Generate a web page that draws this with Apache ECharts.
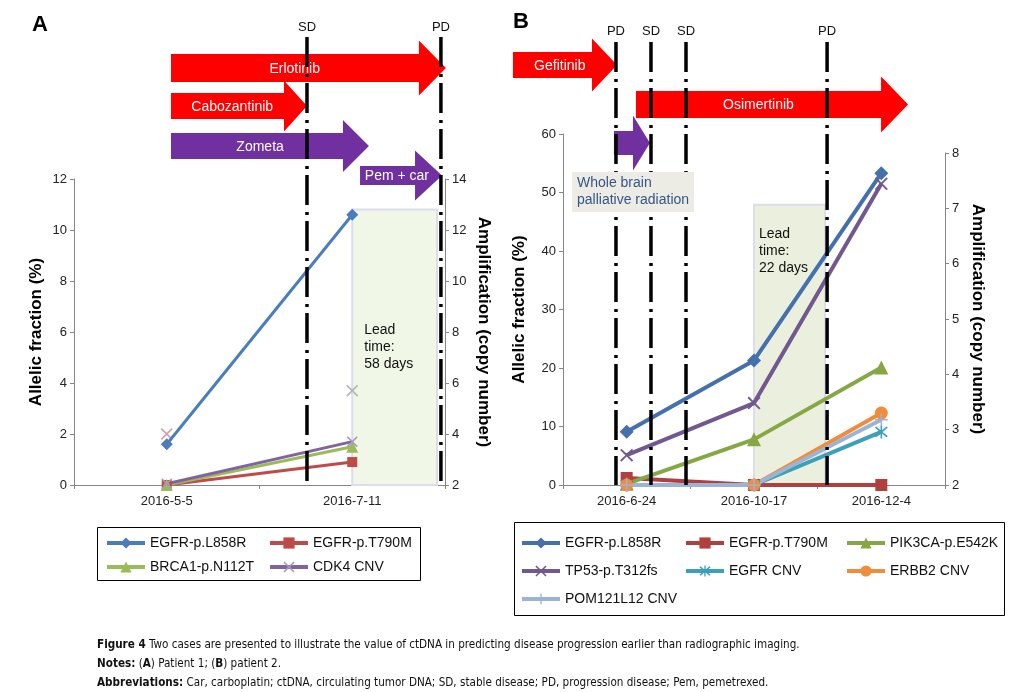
<!DOCTYPE html>
<html><head><meta charset="utf-8">
<script src="https://cdn.jsdelivr.net/npm/echarts@6/dist/echarts.min.js"></script>
<style>html,body{margin:0;padding:0;background:#fff}#c{width:1017px;height:692px}</style>
</head><body><div id="c"></div>
<script>
// ---------------- DATA ----------------
// Panel A (patient 1)
const datesA = ['2016-5-5', '2016-7-11'];
const a_L858R = [1.6, 10.6];
const a_T790M = [0, 0.9];
const a_BRCA1 = [0, 1.5];
const a_CDK4 = [2.05, 3.7];        // copy number, right axis
const a_CDK4_stray = [2.0, 3.7];   // faint markers on left axis
const namesA = ['EGFR-p.L858R', 'EGFR-p.T790M', 'BRCA1-p.N112T', 'CDK4 CNV'];
// events and treatments, positions in sample units (0 = first sample)
const eventsA = [['SD', 0.756], ['PD', 1.478]];
const treatA = [['Erlotinib', 0.023, 1.505], ['Cabozantinib', 0.023, 0.756], ['Zometa', 0.023, 1.09], ['Pem + car', 1.042, 1.484]];
const leadA = [1.0, 1.457, 10.8, 'Lead\ntime:\n58 days'];

// Panel B (patient 2)
const datesB = ['2016-6-24', '2016-10-17', '2016-12-4'];
const b_L858R = [9.1, 21.3, 53.3];
const b_T790M = [1.2, 0, 0];
const b_PIK3CA = [0.2, 7.8, 20.1];
const b_TP53 = [5.1, 14.0, 51.5];
const b_EGFRcnv = [2, 2, 2.96];
const b_ERBB2cnv = [2, 2, 3.3];
const b_POMcnv = [2, 2, 3.18];
const Z = '\u200b';
const namesB = ['EGFR-p.L858R' + Z, 'EGFR-p.T790M' + Z, 'PIK3CA-p.E542K', 'TP53-p.T312fs', 'EGFR CNV', 'ERBB2 CNV', 'POM121L12 CNV'];
const eventsB = [['PD', -0.084], ['SD', 0.191], ['SD', 0.466], ['PD', 1.574]];
const treatB = [['Gefitinib', -0.893, -0.076], ['Osimertinib', 0.073, 2.21], ['', -0.1, 0.183]];
const leadB = [1.0, 1.558, 47.9, 'Lead\ntime:\n22 days'];
const radiationNote = 'Whole brain\npalliative radiation';

// axis ranges
const yA_left = [0, 12, 2], yA_right = [2, 14, 2];
const yB_left = [0, 60, 10], yB_right = [2, 8, 1];

// ---------------- STYLE ----------------
const FONT = "'Liberation Sans', Arial, sans-serif";
const RED = '#ff0000', PURPLE = '#7030a0';
const AX = '#868686';
const X_SYM = 'path://M0,1L1,0L5,4L9,0L10,1L6,5L10,9L9,10L5,6L1,10L0,9L4,5Z';
const AST_SYM = 'path://M0,1L1,0L5,4L9,0L10,1L6,5L10,9L9,10L5,6L1,10L0,9L4,5Z M4.4,-1H5.6V11H4.4Z';
const PLUS_SYM = 'path://M4.4,0H5.6V4.4H10V5.6H5.6V10H4.4V5.6H0V4.4H4.4Z';

function ser(name, data, color, symbol, size, xi, yi, w, symColor) {
  return {type: 'line', name, data, xAxisIndex: xi, yAxisIndex: yi, symbol, symbolSize: size,
    showAllSymbol: true, z: 3, animation: false,
    lineStyle: {color, width: w}, itemStyle: {color: symColor || color},
    emphasis: {disabled: true}};
}
function yAx(grid, r, pos, name, nameGap, nameRotate) {
  return {type: 'value', gridIndex: grid, min: r[0], max: r[1], interval: r[2], position: pos,
    axisLine: {show: true, onZero: false, lineStyle: {color: AX}},
    axisTick: {show: true, length: 4, lineStyle: {color: AX}},
    splitLine: {show: false},
    axisLabel: {fontSize: 13, color: '#222', margin: 7, fontFamily: FONT},
    name, nameLocation: 'middle', nameGap, nameRotate,
    nameTextStyle: {fontSize: 17, fontWeight: 'bold', color: '#000', fontFamily: FONT}};
}
function xCat(grid, data, show) {
  return {type: 'category', gridIndex: grid, data, show, boundaryGap: true,
    axisLine: {show: true, lineStyle: {color: AX}},
    axisTick: {show: true, length: 4, lineStyle: {color: AX}},
    axisLabel: {fontSize: 13, color: '#222', margin: 10, fontFamily: FONT}};
}
function leadSeries(xi, yi, lead, fill, labelCfg) {
  return {type: 'line', xAxisIndex: xi, yAxisIndex: yi, data: [], silent: true, z: 1, animation: false,
    markArea: {silent: true,
      itemStyle: {color: fill, borderColor: '#dcdcee', borderWidth: 2},
      label: Object.assign({show: true, formatter: lead[3], color: '#111', fontSize: 14, lineHeight: 17, fontFamily: FONT}, labelCfg),
      data: [[{xAxis: lead[0], yAxis: lead[2]}, {xAxis: lead[1], yAxis: 0}]]}};
}
// one vertical legend per column, so columns line up
function legendCol(names, left, top, gap) {
  return {data: names, left, top, orient: 'vertical', itemWidth: 38, itemHeight: 14, itemGap: gap,
    padding: 0, selectedMode: false, lineStyle: {width: 4},
    textStyle: {fontSize: 14, color: '#111', fontFamily: FONT}};
}

const chart = echarts.init(document.getElementById('c'), null, {renderer: 'canvas'});
const option = {
  animation: false,
  textStyle: {fontFamily: FONT},
  grid: [
    {left: 74, right: 1017 - 445, top: 179, bottom: 692 - 485},
    {left: 563, right: 1017 - 945, top: 134, bottom: 692 - 485},
    {left: 563, right: 1017 - 945, top: 153, bottom: 692 - 485}
  ],
  xAxis: [
    xCat(0, datesA, true),
    {type: 'value', gridIndex: 0, min: -0.5, max: 1.5, show: false},
    xCat(1, datesB, true),
    xCat(2, datesB, false),
    {type: 'value', gridIndex: 1, min: -0.5, max: 2.5, show: false}
  ],
  yAxis: [
    yAx(0, yA_left, 'left', 'Allelic fraction (%)', 29),
    yAx(0, yA_right, 'right', 'Amplification (copy number)', 30, -90),
    yAx(1, yB_left, 'left', 'Allelic fraction (%)', 35),
    yAx(2, yB_right, 'right', 'Amplification (copy number)', 24, -90)
  ],
  legend: [
    legendCol([namesA[0], namesA[2]], 105, 536, 10),
    legendCol([namesA[1], namesA[3]], 268, 536, 10),
    legendCol([namesB[0], namesB[3], namesB[6]], 520, 536, 14),
    legendCol([namesB[1], namesB[4]], 684, 536, 14),
    legendCol([namesB[2], namesB[5]], 845, 536, 14)
  ],
  series: [
    leadSeries(1, 0, leadA, '#f1f7e7', {position: 'insideLeft', distance: 13}),
    leadSeries(4, 2, leadB, '#eaf0dd', {position: 'insideTopLeft', distance: 6, offset: [0, 16]}),
    ser(namesA[0], a_L858R, '#4a7ebb', 'diamond', 12, 0, 0, 3),
    ser(namesA[1], a_T790M, '#be4b48', 'rect', 10, 0, 0, 3),
    ser(namesA[2], a_BRCA1, '#9bbb59', 'triangle', 12, 0, 0, 3),
    ser(namesA[3], a_CDK4, '#8064a2', X_SYM, 11, 0, 1, 3, '#a898c0'),
    {type: 'line', name: 'stray', data: [{value: a_CDK4_stray[0], itemStyle: {color: '#d4a0a8'}}, {value: a_CDK4_stray[1], itemStyle: {color: '#b4b4b4'}}],
      xAxisIndex: 0, yAxisIndex: 0, symbol: X_SYM, symbolSize: 12, lineStyle: {width: 0, opacity: 0}, z: 2, silent: true},
    ser(namesB[0], b_L858R, '#4470ae', 'diamond', 14, 2, 2, 4),
    ser(namesB[1], b_T790M, '#b0403d', 'rect', 12, 2, 2, 4),
    ser(namesB[2], b_PIK3CA, '#86a844', 'triangle', 14, 2, 2, 4),
    ser(namesB[3], b_TP53, '#71588f', X_SYM, 13, 2, 2, 4),
    ser(namesB[4], b_EGFRcnv, '#3ba0b8', AST_SYM, 13, 3, 3, 4),
    ser(namesB[5], b_ERBB2cnv, '#f08c3c', 'circle', 13, 3, 3, 4),
    ser(namesB[6], b_POMcnv, '#9ab4d8', PLUS_SYM, 13, 3, 3, 4)
  ]
};
chart.setOption(option);

// ---------------- ANNOTATIONS ----------------
const layA = [[68, 28, 55, 27, RED], [106, 26, 51, 23, RED], [146, 26, 52, 26, PURPLE], [175.5, 19, 50, 27, PURPLE]];
const layB = [[65, 26, 53, 25, RED], [104.5, 27, 56, 27, RED], [143, 24, 55, 17, PURPLE]];
const g = [];
function arrow(x0, tip, cy, bh, hh, hl, color, label) {
  const hs = tip - hl;
  g.push({type: 'polygon', z: 50, silent: true,
    shape: {points: [[x0, cy - bh / 2], [hs, cy - bh / 2], [hs, cy - hh / 2], [tip, cy], [hs, cy + hh / 2], [hs, cy + bh / 2], [x0, cy + bh / 2]]},
    style: {fill: color}});
  if (label) g.push({type: 'text', z: 51, silent: true, x: x0 + (tip - x0) * 0.45, y: cy + 1,
    style: {text: label, fill: '#fff', font: '14px ' + FONT, align: 'center', verticalAlign: 'middle'}});
}
function panel(xAxisIdx, yAxisIdx, treats, lay, events, lineTop, labelY) {
  const px = v => chart.convertToPixel({xAxisIndex: xAxisIdx}, v);
  const yb = chart.convertToPixel({yAxisIndex: yAxisIdx}, 0);
  treats.forEach((t, i) => { const L = lay[i]; arrow(px(t[1]), px(t[2]), L[0], L[1], L[2], L[3], L[4], t[0]); });
  events.forEach(e => {
    const x = px(e[1]);
    g.push({type: 'line', z: 60, silent: true, shape: {x1: x, y1: lineTop, x2: x, y2: yb},
      style: {stroke: '#000', lineWidth: 3.5, lineDash: [30, 7, 3, 6]}});
    g.push({type: 'text', z: 60, silent: true, x: x, y: labelY,
      style: {text: e[0], fill: '#111', font: '13px ' + FONT, align: 'center', verticalAlign: 'middle'}});
  });
}
panel(1, 0, treatA, layA, eventsA, 37, 27);
panel(4, 2, treatB, layB, eventsB, 42, 31);

// legend frames
g.push({type: 'rect', z: 1, silent: true, shape: {x: 97.5, y: 527.5, width: 323, height: 53}, style: {fill: 'none', stroke: '#000', lineWidth: 1}});
g.push({type: 'rect', z: 1, silent: true, shape: {x: 514.5, y: 522.5, width: 490, height: 93}, style: {fill: 'none', stroke: '#000', lineWidth: 1}});

// radiation note box
g.push({type: 'rect', z: 70, silent: true, shape: {x: 572, y: 172, width: 122, height: 40}, style: {fill: '#edece4'}});
g.push({type: 'text', z: 71, silent: true, x: 577, y: 192,
  style: {text: radiationNote, fill: '#34558a', font: '14px ' + FONT, lineHeight: 17, verticalAlign: 'middle'}});
// panel letters
g.push({type: 'text', z: 80, x: 32, y: 25, style: {text: 'A', fill: '#000', font: 'bold 22px ' + FONT, verticalAlign: 'middle'}});
g.push({type: 'text', z: 80, x: 513, y: 22, style: {text: 'B', fill: '#000', font: 'bold 22px ' + FONT, verticalAlign: 'middle'}});
// caption
const CAP = "'Liberation Sans Narrow', 'DejaVu Sans Condensed', sans-serif";
const capRich = {b: {fontWeight: 'bold', fontSize: 11.6, fontFamily: CAP, fill: '#111'}};
const capLines = [
  '{b|Figure 4} Two cases are presented to illustrate the value of ctDNA in predicting disease progression earlier than radiographic imaging.',
  '{b|Notes:} ({b|A}) Patient 1; ({b|B}) patient 2.',
  '{b|Abbreviations:} Car, carboplatin; ctDNA, circulating tumor DNA; SD, stable disease; PD, progression disease; Pem, pemetrexed.'
];
[645, 664, 683].forEach((y, i) => g.push({type: 'text', z: 80, x: 97, y: y,
  style: {text: capLines[i], rich: capRich, fill: '#111', fontSize: 11.6, fontFamily: CAP, verticalAlign: 'middle'}}));

chart.setOption({graphic: {elements: g}});
</script>
</body></html>
